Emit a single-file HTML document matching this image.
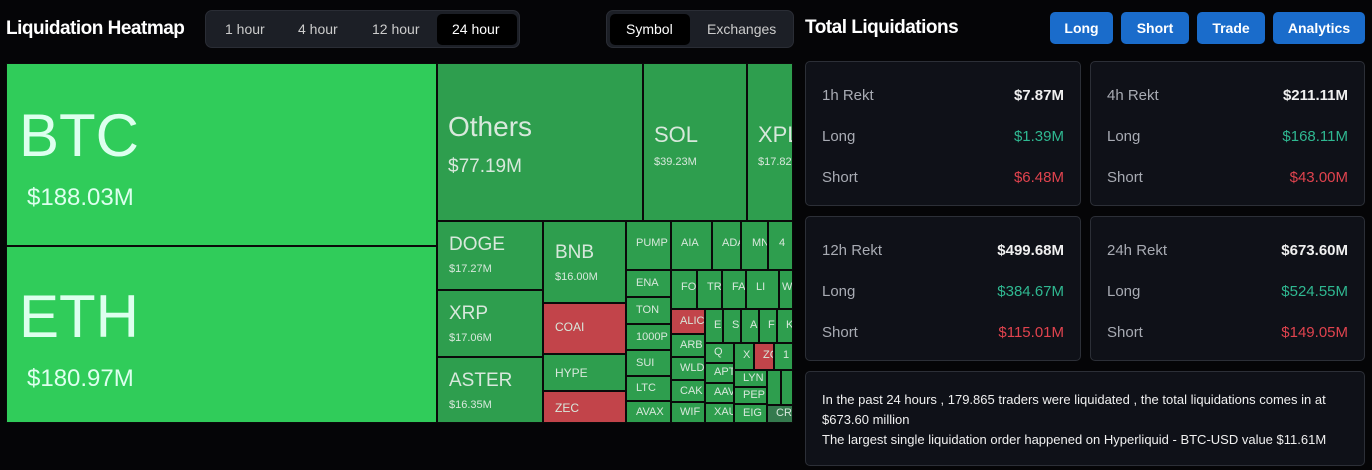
<!DOCTYPE html>
<html><head><meta charset="utf-8"><style>
*{box-sizing:border-box;margin:0;padding:0}
body{width:1372px;height:470px;background:#050507;font-family:"Liberation Sans",sans-serif;position:relative;overflow:hidden;color:#ddd}
.a{position:absolute}
.c{position:absolute;background:#2e9e4e;border:1px solid #0a0a0a;color:#d8e8dc;font-size:12px;padding:4px 0 0 6px;overflow:hidden;white-space:nowrap;line-height:1.2}
.r{background:#c2444a}
.g{background:#30cc5a}
.btn{position:absolute;top:12px;height:32px;background:#1a6ccb;border-radius:5px;color:#fff;font-weight:bold;font-size:14px;text-align:center;line-height:32px}
.card{position:absolute;background:#0f1118;border:1px solid #2c2f37;border-radius:5px}
.row{position:absolute;left:16px;right:16px;font-size:15px;color:#a8abb3}
.row span{float:right}
.w{color:#f0f0f0;font-weight:bold}
.gr{color:#2fb891}.rd{color:#e0434e}
</style></head><body>
<div class="a" style="left:6px;top:18px;font-size:19px;font-weight:bold;color:#fff;letter-spacing:-0.5px">Liquidation Heatmap</div>
<div class="a" style="left:205px;top:10px;width:315px;height:38px;background:#1c1f26;border-radius:7px;border:1px solid #2a2d35"></div>
<div class="a" style="left:437px;top:14px;width:80px;height:31px;background:#000;border-radius:5px"></div>
<div class="a" style="left:225px;top:21px;font-size:14px;color:#ccc">1 hour</div>
<div class="a" style="left:298px;top:21px;font-size:14px;color:#ccc">4 hour</div>
<div class="a" style="left:372px;top:21px;font-size:14px;color:#ccc">12 hour</div>
<div class="a" style="left:452px;top:21px;font-size:14px;color:#fff">24 hour</div>
<div class="a" style="left:606px;top:10px;width:188px;height:38px;background:#1c1f26;border-radius:7px;border:1px solid #2a2d35"></div>
<div class="a" style="left:610px;top:14px;width:80px;height:31px;background:#000;border-radius:5px"></div>
<div class="a" style="left:626px;top:21px;font-size:14px;color:#fff">Symbol</div>
<div class="a" style="left:707px;top:21px;font-size:14px;color:#ccc">Exchanges</div>

<div class="c g" style="left:6px;top:63px;width:431px;height:183px;padding:36px 0 0 12px;font-size:60px;color:#dfe">BTC<div style="font-size:24px;margin:12px 0 0 8px">$188.03M</div></div>
<div class="c g" style="left:6px;top:246px;width:431px;height:177px;padding:34px 0 0 12px;font-size:60px;color:#dfe">ETH<div style="font-size:24px;margin:12px 0 0 8px">$180.97M</div></div>
<div class="c" style="left:437px;top:63px;width:206px;height:158px;padding:46px 0 0 10px;font-size:28px">Others<div style="font-size:19px;margin-top:12px">$77.19M</div></div>
<div class="c" style="left:643px;top:63px;width:104px;height:158px;padding:58px 0 0 10px;font-size:22px">SOL<div style="font-size:11px;margin-top:8px">$39.23M</div></div>
<div class="c" style="left:747px;top:63px;width:46px;height:158px;padding:58px 0 0 10px;font-size:22px">XPL<div style="font-size:11px;margin-top:8px">$17.82M</div></div>
<div class="c" style="left:437px;top:221px;width:106px;height:69px;padding:12px 0 0 11px;font-size:19px">DOGE<div style="font-size:11px;margin-top:6px">$17.27M</div></div>
<div class="c" style="left:437px;top:290px;width:106px;height:67px;padding:12px 0 0 11px;font-size:19px">XRP<div style="font-size:11px;margin-top:6px">$17.06M</div></div>
<div class="c" style="left:437px;top:357px;width:106px;height:66px;padding:12px 0 0 11px;font-size:19px">ASTER<div style="font-size:11px;margin-top:6px">$16.35M</div></div>
<div class="c" style="left:543px;top:221px;width:83px;height:82px;padding:20px 0 0 11px;font-size:19px">BNB<div style="font-size:11px;margin-top:6px">$16.00M</div></div>
<div class="c r" style="left:543px;top:303px;width:83px;height:51px;padding:16px 0 0 11px">COAI</div>
<div class="c" style="left:543px;top:354px;width:83px;height:37px;padding:11px 0 0 11px">HYPE</div>
<div class="c r" style="left:543px;top:391px;width:83px;height:32px;padding:9px 0 0 11px">ZEC</div>
<div class="c" style="left:626px;top:221px;width:45px;height:49px;padding:15px 0 0 9px;font-size:11px">PUMP</div>
<div class="c" style="left:626px;top:270px;width:45px;height:27px;padding:6px 0 0 9px;font-size:11px">ENA</div>
<div class="c" style="left:626px;top:297px;width:45px;height:27px;padding:6px 0 0 9px;font-size:11px">TON</div>
<div class="c" style="left:626px;top:324px;width:45px;height:26px;padding:6px 0 0 9px;font-size:11px">1000P</div>
<div class="c" style="left:626px;top:350px;width:45px;height:26px;padding:6px 0 0 9px;font-size:11px">SUI</div>
<div class="c" style="left:626px;top:376px;width:45px;height:25px;padding:5px 0 0 9px;font-size:11px">LTC</div>
<div class="c" style="left:626px;top:401px;width:45px;height:22px;padding:4px 0 0 9px;font-size:11px">AVAX</div>
<div class="c" style="left:671px;top:221px;width:41px;height:49px;padding:15px 0 0 9px;font-size:11px">AIA</div>
<div class="c" style="left:712px;top:221px;width:29px;height:49px;padding:15px 0 0 9px;font-size:11px">ADA</div>
<div class="c" style="left:741px;top:221px;width:27px;height:49px;padding:15px 0 0 10px;font-size:11px">MNT</div>
<div class="c" style="left:768px;top:221px;width:25px;height:49px;padding:15px 0 0 10px;font-size:11px">4</div>
<div class="c" style="left:671px;top:270px;width:26px;height:39px;padding:10px 0 0 9px;font-size:11px">FO</div>
<div class="c" style="left:697px;top:270px;width:25px;height:39px;padding:10px 0 0 9px;font-size:11px">TR</div>
<div class="c" style="left:722px;top:270px;width:24px;height:39px;padding:10px 0 0 9px;font-size:11px">FA</div>
<div class="c" style="left:746px;top:270px;width:33px;height:39px;padding:10px 0 0 9px;font-size:11px">LI</div>
<div class="c" style="left:779px;top:270px;width:14px;height:39px;padding:10px 0 0 2px;font-size:11px">WI</div>
<div class="c r" style="left:671px;top:309px;width:34px;height:25px;padding:5px 0 0 8px;font-size:11px">ALIC</div>
<div class="c" style="left:671px;top:334px;width:34px;height:23px;padding:4px 0 0 8px;font-size:11px">ARB</div>
<div class="c" style="left:671px;top:357px;width:34px;height:23px;padding:4px 0 0 8px;font-size:11px">WLD</div>
<div class="c" style="left:671px;top:380px;width:34px;height:22px;padding:4px 0 0 8px;font-size:11px">CAK</div>
<div class="c" style="left:671px;top:402px;width:34px;height:21px;padding:3px 0 0 8px;font-size:11px">WIF</div>
<div class="c" style="left:705px;top:309px;width:18px;height:34px;padding:9px 0 0 8px;font-size:11px">E</div>
<div class="c" style="left:723px;top:309px;width:18px;height:34px;padding:9px 0 0 8px;font-size:11px">S</div>
<div class="c" style="left:741px;top:309px;width:18px;height:34px;padding:9px 0 0 8px;font-size:11px">A</div>
<div class="c" style="left:759px;top:309px;width:18px;height:34px;padding:9px 0 0 8px;font-size:11px">F</div>
<div class="c" style="left:777px;top:309px;width:16px;height:34px;padding:9px 0 0 8px;font-size:11px">K</div>
<div class="c" style="left:705px;top:343px;width:29px;height:20px;padding:2px 0 0 8px;font-size:11px">Q</div>
<div class="c" style="left:705px;top:363px;width:29px;height:20px;padding:2px 0 0 8px;font-size:11px">APT</div>
<div class="c" style="left:705px;top:383px;width:29px;height:20px;padding:2px 0 0 8px;font-size:11px">AAVE</div>
<div class="c" style="left:705px;top:403px;width:29px;height:20px;padding:2px 0 0 8px;font-size:11px">XAU</div>
<div class="c" style="left:734px;top:343px;width:20px;height:27px;padding:5px 0 0 8px;font-size:11px">X</div>
<div class="c r" style="left:754px;top:343px;width:20px;height:27px;padding:5px 0 0 8px;font-size:11px">ZC</div>
<div class="c" style="left:774px;top:343px;width:19px;height:27px;padding:5px 0 0 8px;font-size:11px">1</div>
<div class="c" style="left:734px;top:370px;width:33px;height:17px;padding:1px 0 0 8px;font-size:11px">LYN</div>
<div class="c" style="left:734px;top:387px;width:33px;height:17px;padding:1px 0 0 8px;font-size:11px">PEP</div>
<div class="c" style="left:734px;top:404px;width:33px;height:19px;padding:2px 0 0 8px;font-size:11px">EIG</div>
<div class="c" style="left:767px;top:370px;width:14px;height:35px"></div>
<div class="c" style="left:781px;top:370px;width:12px;height:35px"></div>
<div class="c" style="left:767px;top:405px;width:26px;height:18px;padding:1px 0 0 8px;font-size:11px;background:#357a4e">CRV</div>

<div class="a" style="left:805px;top:17px;font-size:19px;font-weight:bold;color:#fff;letter-spacing:-0.5px">Total Liquidations</div>
<div class="btn" style="left:1050px;width:63px">Long</div>
<div class="btn" style="left:1121px;width:68px">Short</div>
<div class="btn" style="left:1197px;width:68px">Trade</div>
<div class="btn" style="left:1273px;width:92px">Analytics</div>

<div class="card" style="left:805px;top:61px;width:276px;height:145px">
<div class="row" style="top:25px">1h Rekt<span class="w">$7.87M</span></div>
<div class="row" style="top:66px">Long<span class="gr">$1.39M</span></div>
<div class="row" style="top:107px">Short<span class="rd">$6.48M</span></div></div>
<div class="card" style="left:1090px;top:61px;width:275px;height:145px">
<div class="row" style="top:25px">4h Rekt<span class="w">$211.11M</span></div>
<div class="row" style="top:66px">Long<span class="gr">$168.11M</span></div>
<div class="row" style="top:107px">Short<span class="rd">$43.00M</span></div></div>
<div class="card" style="left:805px;top:216px;width:276px;height:145px">
<div class="row" style="top:25px">12h Rekt<span class="w">$499.68M</span></div>
<div class="row" style="top:66px">Long<span class="gr">$384.67M</span></div>
<div class="row" style="top:107px">Short<span class="rd">$115.01M</span></div></div>
<div class="card" style="left:1090px;top:216px;width:275px;height:145px">
<div class="row" style="top:25px">24h Rekt<span class="w">$673.60M</span></div>
<div class="row" style="top:66px">Long<span class="gr">$524.55M</span></div>
<div class="row" style="top:107px">Short<span class="rd">$149.05M</span></div></div>
<div class="card" style="left:805px;top:371px;width:560px;height:95px;padding:18px 0 0 16px;font-size:13px;color:#f0f0f0;line-height:20px">In the past 24 hours , 179.865 traders were liquidated , the total liquidations comes in at $673.60 million<br>The largest single liquidation order happened on Hyperliquid - BTC-USD value $11.61M</div>
</body></html>
